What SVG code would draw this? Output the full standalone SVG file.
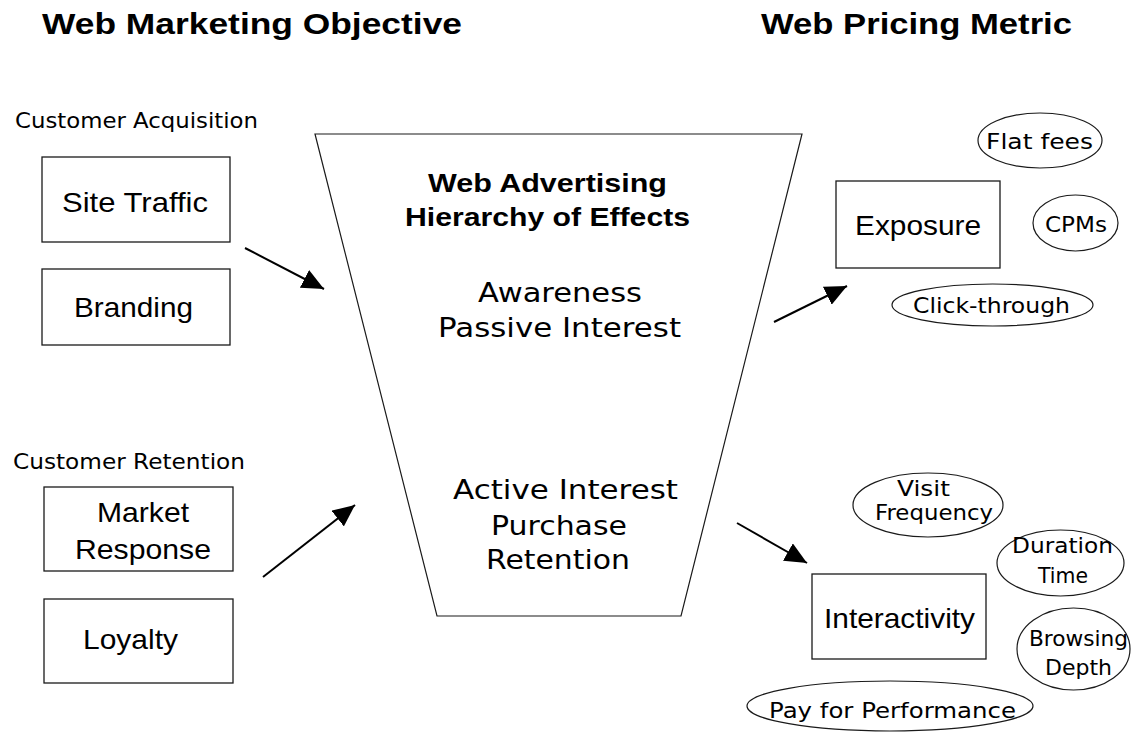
<svg xmlns="http://www.w3.org/2000/svg" width="1139" height="732" viewBox="0 0 1139 732">
<style>
.bg{fill:#fff}
.box{fill:#fff;stroke:#1a1a1a;stroke-width:1.3}
.oval{fill:#fff;stroke:#1a1a1a;stroke-width:1.2}
.funnel{fill:#fff;stroke:#1a1a1a;stroke-width:1.2}
.hdr{font-family:"Liberation Sans",Arial,sans-serif;font-weight:bold;font-size:30px;fill:#000}
.sub{font-family:"Liberation Sans",Arial,sans-serif;font-weight:bold;font-size:25px;fill:#000}
.lbl{font-family:"Liberation Sans",Arial,sans-serif;font-size:28px;fill:#000}
.ver{font-family:"DejaVu Sans",Verdana,sans-serif;font-size:26px;fill:#000}
.hand{font-family:"DejaVu Sans","Open Sans",sans-serif;font-size:22px;fill:#000}
.conn{stroke:#000;stroke-width:2;fill:none;marker-end:url(#ah)}
</style>
<defs>
<marker id="ah" viewBox="0 0 22 20" refX="22" refY="10" markerWidth="22" markerHeight="20" markerUnits="userSpaceOnUse" orient="auto">
<path d="M0,0 L22,10 L0,20 z" fill="#000"/>
</marker>
</defs>
<rect class="bg" x="0" y="0" width="1139" height="732"/>

<g id="headers">
<text class="hdr" x="42" y="34" textLength="420" lengthAdjust="spacingAndGlyphs">Web Marketing Objective</text>
<text class="hdr" x="761" y="34" textLength="311" lengthAdjust="spacingAndGlyphs">Web Pricing Metric</text>
</g>

<g id="customer-acquisition">
<text class="hand" x="15" y="128" textLength="243" lengthAdjust="spacingAndGlyphs">Customer Acquisition</text>
</g>
<g id="site-traffic">
<rect class="box" x="42" y="157" width="188" height="85"/>
<text class="lbl" x="62" y="212" textLength="146" lengthAdjust="spacingAndGlyphs">Site Traffic</text>
</g>
<g id="branding">
<rect class="box" x="42" y="269" width="188" height="76"/>
<text class="lbl" x="74" y="317" textLength="119" lengthAdjust="spacingAndGlyphs">Branding</text>
</g>

<g id="customer-retention">
<text class="hand" x="13" y="469" textLength="232" lengthAdjust="spacingAndGlyphs">Customer Retention</text>
</g>
<g id="market-response">
<rect class="box" x="44" y="487" width="189" height="84"/>
<text class="lbl" x="97" y="522" textLength="92" lengthAdjust="spacingAndGlyphs">Market</text>
<text class="lbl" x="75" y="559" textLength="136" lengthAdjust="spacingAndGlyphs">Response</text>
</g>
<g id="loyalty">
<rect class="box" x="44" y="599" width="189" height="84"/>
<text class="lbl" x="83" y="649" textLength="95" lengthAdjust="spacingAndGlyphs">Loyalty</text>
</g>

<g id="funnel">
<polygon class="funnel" points="315,134 802,134 681,616 437,616"/>
<text class="sub" x="428" y="192" textLength="239" lengthAdjust="spacingAndGlyphs">Web Advertising</text>
<text class="sub" x="405" y="226" textLength="285" lengthAdjust="spacingAndGlyphs">Hierarchy of Effects</text>
<text class="ver" x="478" y="302" textLength="164" lengthAdjust="spacingAndGlyphs">Awareness</text>
<text class="ver" x="438" y="337" textLength="243" lengthAdjust="spacingAndGlyphs">Passive Interest</text>
<text class="ver" x="453" y="499" textLength="225" lengthAdjust="spacingAndGlyphs">Active Interest</text>
<text class="ver" x="491" y="535" textLength="136" lengthAdjust="spacingAndGlyphs">Purchase</text>
<text class="ver" x="486" y="569" textLength="144" lengthAdjust="spacingAndGlyphs">Retention</text>
</g>

<g id="exposure">
<rect class="box" x="836" y="181" width="164" height="87"/>
<text class="lbl" x="855" y="235" textLength="126" lengthAdjust="spacingAndGlyphs">Exposure</text>
</g>
<g id="flat-fees">
<ellipse class="oval" cx="1040" cy="140.5" rx="62" ry="27.5"/>
<text class="hand" x="986" y="149" textLength="107" lengthAdjust="spacingAndGlyphs">Flat fees</text>
</g>
<g id="cpms">
<ellipse class="oval" cx="1075.5" cy="223" rx="42.5" ry="28"/>
<text class="hand" x="1045" y="232" textLength="62" lengthAdjust="spacingAndGlyphs">CPMs</text>
</g>
<g id="click-through">
<ellipse class="oval" cx="992.5" cy="305" rx="100.5" ry="21"/>
<text class="hand" x="913" y="313" textLength="157" lengthAdjust="spacingAndGlyphs">Click-through</text>
</g>

<g id="interactivity">
<rect class="box" x="812" y="574" width="174" height="85"/>
<text class="lbl" x="824" y="628" textLength="151" lengthAdjust="spacingAndGlyphs">Interactivity</text>
</g>
<g id="visit-frequency">
<ellipse class="oval" cx="928" cy="505" rx="75" ry="32"/>
<text class="hand" x="897" y="496" textLength="53" lengthAdjust="spacingAndGlyphs">Visit</text>
<text class="hand" x="875" y="520" textLength="118" lengthAdjust="spacingAndGlyphs">Frequency</text>
</g>
<g id="duration-time">
<ellipse class="oval" cx="1060.5" cy="563" rx="63.5" ry="33"/>
<text class="hand" x="1012" y="553" textLength="101" lengthAdjust="spacingAndGlyphs">Duration</text>
<text class="hand" x="1038" y="583" textLength="50" lengthAdjust="spacingAndGlyphs">Time</text>
</g>
<g id="browsing-depth">
<ellipse class="oval" cx="1073.5" cy="649" rx="56.5" ry="41"/>
<text class="hand" x="1029" y="646" textLength="99" lengthAdjust="spacingAndGlyphs">Browsing</text>
<text class="hand" x="1045" y="675" textLength="67" lengthAdjust="spacingAndGlyphs">Depth</text>
</g>
<g id="pay-for-performance">
<ellipse class="oval" cx="890" cy="706" rx="143" ry="25"/>
<text class="hand" x="769" y="718" textLength="247" lengthAdjust="spacingAndGlyphs">Pay for Performance</text>
</g>

<g id="connectors">
<line class="conn" x1="245" y1="248" x2="324" y2="289"/>
<line class="conn" x1="263" y1="577" x2="355" y2="505"/>
<line class="conn" x1="774" y1="322" x2="847" y2="286"/>
<line class="conn" x1="737" y1="523" x2="807" y2="563"/>
</g>
</svg>
